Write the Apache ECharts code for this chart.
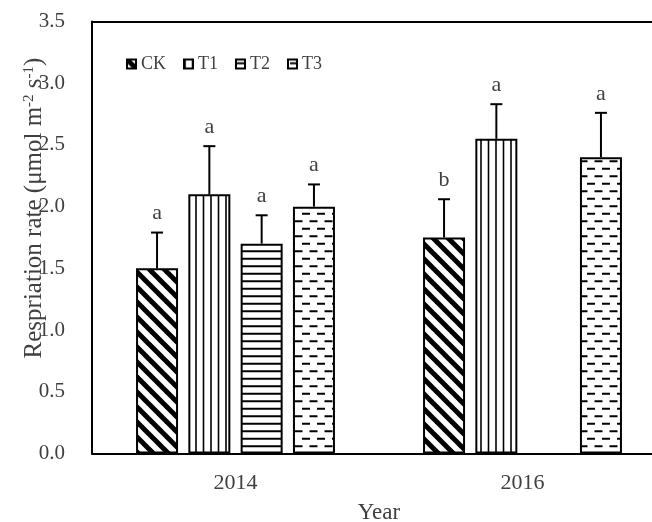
<!DOCTYPE html>
<html>
<head>
<meta charset="utf-8">
<script src="https://cdn.jsdelivr.net/npm/echarts@6/dist/echarts.min.js"></script>
<style>
  html, body { margin: 0; padding: 0; background: #fff; }
  #chart { width: 652px; height: 522px; }
</style>
</head>
<body>
<div id="chart"></div>
<script>
// Soil respiration rate by year and treatment (mean + SD, with significance letters)
const years = ['2014', '2016'];
const treatments = ['CK', 'T1', 'T2', 'T3'];

const meanCK = [1.50, 1.75];
const meanT1 = [2.10, 2.55];
const meanT2 = [1.70, null];
const meanT3 = [2.00, 2.40];

const sdCK = [0.29, 0.31];
const sdT1 = [0.39, 0.28];
const sdT2 = [0.23, null];
const sdT3 = [0.18, 0.36];

const letterCK = ['a', 'b'];
const letterT1 = ['a', 'a'];
const letterT2 = ['a', ''];
const letterT3 = ['a', 'a'];

const yTicks = [0, 3.5, 0.5]; // min, max, step

const means = [meanCK, meanT1, meanT2, meanT3];
const sds = [sdCK, sdT1, sdT2, sdT3];
const letters = [letterCK, letterT1, letterT2, letterT3];

const FONT = '"Liberation Serif", "Times New Roman", serif';
const TEXT = '#404040';
const BAR_W = 42;
const BAR_GAP = 10.3;

// Monochrome fill patterns drawn on small tiles
function makePattern(kind) {
  const c = document.createElement('canvas');
  let w = 15, h = 15;
  c.width = w; c.height = h;
  const g = c.getContext('2d');
  g.fillStyle = '#fff';
  g.fillRect(0, 0, w, h);
  g.strokeStyle = '#000';
  if (kind === 'diag') {
    g.lineWidth = 5;
    for (let k = -1; k <= 1; k++) {
      g.beginPath();
      g.moveTo(-w, -w + k * w);
      g.lineTo(2 * w, 2 * w + k * w);
      g.stroke();
    }
  } else if (kind === 'vert') {
    g.lineWidth = 1.6;
    [1, 8.5].forEach(x => { g.beginPath(); g.moveTo(x, 0); g.lineTo(x, h); g.stroke(); });
  } else if (kind === 'horiz') {
    g.lineWidth = 2;
    [3.75, 11.25].forEach(y => { g.beginPath(); g.moveTo(0, y); g.lineTo(w, y); g.stroke(); });
  } else if (kind === 'dash') {
    g.lineWidth = 2;
    g.beginPath(); g.moveTo(2, 3.75); g.lineTo(10, 3.75); g.stroke();
    g.beginPath(); g.moveTo(9.5, 11.25); g.lineTo(17.5, 11.25); g.stroke();
    g.beginPath(); g.moveTo(-5.5, 11.25); g.lineTo(2.5, 11.25); g.stroke();
  }
  return { image: c, repeat: 'repeat' };
}
const patterns = [makePattern('diag'), makePattern('vert'), makePattern('horiz'), makePattern('dash')];

const barSeries = treatments.map((name, i) => ({
  name: name,
  type: 'bar',
  xAxisIndex: 0,
  data: means[i],
  barWidth: BAR_W,
  barGap: (BAR_GAP / BAR_W * 100) + '%',
  itemStyle: { color: patterns[i], borderColor: '#000', borderWidth: 2 },
  emphasis: { disabled: true },
  z: 2
}));

// Error bar + letter records
const errData = [];
const errLetters = [];
treatments.forEach((t, si) => {
  years.forEach((y, ci) => {
    if (means[si][ci] == null) return;
    errData.push([ci, means[si][ci], sds[si][ci], si]);
    errLetters.push(letters[si][ci]);
  });
});

const errSeries = {
  name: 'sd',
  type: 'custom',
  xAxisIndex: 0,
  z: 5,
  silent: true,
  encode: { x: 0, y: 1 },
  data: errData,
  renderItem: function (params, api) {
    const ci = api.value(0), m = api.value(1), e = api.value(2), si = api.value(3);
    const base = api.coord([ci, m]);
    const top = api.coord([ci, m + e]);
    const x = base[0] + (si - 1.5) * (BAR_W + BAR_GAP);
    const ls = { stroke: '#000', lineWidth: 2 };
    return {
      type: 'group',
      children: [
        { type: 'line', shape: { x1: x, y1: base[1], x2: x, y2: top[1] }, style: ls },
        { type: 'line', shape: { x1: x - 6, y1: top[1], x2: x + 6, y2: top[1] }, style: ls },
        { type: 'text', x: x, y: top[1] - 19, style: {
            text: errLetters[params.dataIndex], fill: TEXT, font: '22px ' + FONT,
            align: 'center', verticalAlign: 'middle' } }
      ]
    };
  }
};

const chart = echarts.init(document.getElementById('chart'), null, { renderer: 'canvas' });
chart.setOption({
  animation: false,
  backgroundColor: '#fff',
  grid: { left: 92, top: 21.5, width: 574, height: 432, containLabel: false, outerBoundsMode: 'none' },
  legend: {
    data: treatments,
    left: 121, top: 50,
    itemWidth: 9, itemHeight: 9, itemGap: 17,
    icon: 'rect',
    textStyle: { fontFamily: FONT, fontSize: 18, color: TEXT },
    selectedMode: false
  },
  xAxis: [{
    type: 'category',
    data: years,
    axisLine: { lineStyle: { color: '#000', width: 2 } },
    axisTick: { show: false },
    axisLabel: { fontFamily: FONT, fontSize: 22, color: TEXT, margin: 19 },
    name: 'Year',
    nameLocation: 'middle',
    nameGap: 48,
    nameTextStyle: { fontFamily: FONT, fontSize: 23, color: TEXT }
  }, {
    type: 'category',
    data: years,
    position: 'top',
    axisLine: { lineStyle: { color: '#000', width: 2 } },
    axisTick: { show: false },
    axisLabel: { show: false }
  }],
  yAxis: {
    type: 'value',
    min: yTicks[0], max: yTicks[1], interval: yTicks[2],
    axisLine: { show: true, lineStyle: { color: '#000', width: 2 } },
    axisTick: { show: false },
    splitLine: { show: false },
    axisLabel: {
      fontFamily: FONT, fontSize: 21, color: TEXT, margin: 27,
      formatter: v => v.toFixed(1)
    }
  },
  graphic: [{
    type: 'text',
    x: 34, y: 208,
    rotation: Math.PI / 2,
    style: {
      text: 'Respriation rate (μmol m{sup|-2} s{sup|-1})',
      font: '25px ' + FONT,
      fill: TEXT,
      align: 'center',
      verticalAlign: 'middle',
      rich: {
        sup: { fontSize: 15, fontFamily: FONT, fill: TEXT, verticalAlign: 'top', lineHeight: 25 }
      }
    }
  }],
  series: barSeries.concat([errSeries])
});
</script>
</body>
</html>
